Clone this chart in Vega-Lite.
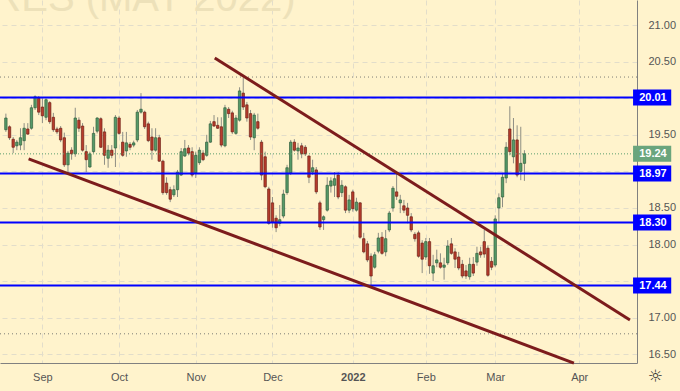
{
  "$schema": "https://vega.github.io/schema/vega-lite/v6.json",
  "width": 637,
  "height": 363,
  "autosize": {"type": "none"},
  "padding": {"left": 0, "top": 0, "right": 43, "bottom": 28},
  "background": "#fff3cc",
  "config": {"view": {"stroke": null}},
  "datasets": {
    "candles": [
      {"i":-10,"o":19.57,"h":19.79,"l":19.54,"c":19.73},
      {"i":-9,"o":19.61,"h":19.63,"l":19.43,"c":19.46},
      {"i":-8,"o":19.44,"h":19.47,"l":19.25,"c":19.33},
      {"i":-7,"o":19.35,"h":19.43,"l":19.29,"c":19.40},
      {"i":-6,"o":19.36,"h":19.59,"l":19.29,"c":19.46},
      {"i":-5,"o":19.42,"h":19.66,"l":19.29,"c":19.59},
      {"i":-4,"o":19.58,"h":19.66,"l":19.50,"c":19.51},
      {"i":-3,"o":19.59,"h":19.91,"l":19.57,"c":19.87},
      {"i":-2,"o":19.87,"h":20.04,"l":19.84,"c":20.02},
      {"i":-1,"o":20.00,"h":20.03,"l":19.77,"c":19.81},
      {"i":0,"o":19.88,"h":20.00,"l":19.66,"c":19.76},
      {"i":1,"o":19.74,"h":20.00,"l":19.70,"c":19.98},
      {"i":2,"o":19.94,"h":19.96,"l":19.65,"c":19.68},
      {"i":3,"o":19.74,"h":19.80,"l":19.54,"c":19.57},
      {"i":4,"o":19.58,"h":19.61,"l":19.51,"c":19.54},
      {"i":5,"o":19.59,"h":19.62,"l":19.40,"c":19.43},
      {"i":6,"o":19.46,"h":19.53,"l":19.06,"c":19.09},
      {"i":7,"o":19.09,"h":19.28,"l":18.95,"c":19.25},
      {"i":8,"o":19.29,"h":19.33,"l":19.16,"c":19.24},
      {"i":9,"o":19.24,"h":19.87,"l":19.20,"c":19.73},
      {"i":10,"o":19.70,"h":19.74,"l":19.54,"c":19.59},
      {"i":11,"o":19.62,"h":19.66,"l":19.27,"c":19.29},
      {"i":12,"o":19.27,"h":19.36,"l":18.99,"c":19.16},
      {"i":13,"o":19.06,"h":19.27,"l":19.05,"c":19.24},
      {"i":14,"o":19.27,"h":19.61,"l":19.25,"c":19.52},
      {"i":15,"o":19.55,"h":19.74,"l":19.52,"c":19.73},
      {"i":16,"o":19.72,"h":19.74,"l":19.32,"c":19.33},
      {"i":17,"o":19.54,"h":19.59,"l":19.09,"c":19.22},
      {"i":18,"o":19.18,"h":19.36,"l":19.05,"c":19.29},
      {"i":19,"o":19.29,"h":19.36,"l":19.18,"c":19.22},
      {"i":20,"o":19.32,"h":19.77,"l":19.06,"c":19.74},
      {"i":21,"o":19.73,"h":19.76,"l":19.50,"c":19.52},
      {"i":22,"o":19.40,"h":19.54,"l":19.20,"c":19.22},
      {"i":23,"o":19.28,"h":19.54,"l":19.20,"c":19.39},
      {"i":24,"o":19.37,"h":19.40,"l":19.29,"c":19.33},
      {"i":25,"o":19.36,"h":19.42,"l":19.33,"c":19.39},
      {"i":26,"o":19.43,"h":19.84,"l":19.40,"c":19.81},
      {"i":27,"o":19.81,"h":20.07,"l":19.79,"c":19.85},
      {"i":28,"o":19.81,"h":19.83,"l":19.58,"c":19.61},
      {"i":29,"o":19.65,"h":19.68,"l":19.40,"c":19.42},
      {"i":30,"o":19.47,"h":19.59,"l":19.16,"c":19.29},
      {"i":31,"o":19.29,"h":19.59,"l":19.27,"c":19.46},
      {"i":32,"o":19.46,"h":19.50,"l":19.13,"c":19.14},
      {"i":33,"o":19.14,"h":19.16,"l":18.68,"c":18.71},
      {"i":34,"o":18.84,"h":18.92,"l":18.68,"c":18.71},
      {"i":35,"o":18.75,"h":18.79,"l":18.58,"c":18.62},
      {"i":36,"o":18.68,"h":18.81,"l":18.65,"c":18.75},
      {"i":37,"o":18.75,"h":19.02,"l":18.65,"c":18.99},
      {"i":38,"o":18.95,"h":19.32,"l":18.94,"c":19.27},
      {"i":39,"o":19.21,"h":19.43,"l":19.20,"c":19.31},
      {"i":40,"o":19.32,"h":19.36,"l":19.22,"c":19.25},
      {"i":41,"o":19.27,"h":19.33,"l":18.92,"c":18.95},
      {"i":42,"o":18.98,"h":19.27,"l":18.91,"c":19.22},
      {"i":43,"o":19.12,"h":19.33,"l":19.09,"c":19.29},
      {"i":44,"o":19.25,"h":19.29,"l":19.14,"c":19.16},
      {"i":45,"o":19.22,"h":19.50,"l":19.20,"c":19.40},
      {"i":46,"o":19.40,"h":19.69,"l":19.39,"c":19.65},
      {"i":47,"o":19.68,"h":19.77,"l":19.61,"c":19.62},
      {"i":48,"o":19.63,"h":19.74,"l":19.58,"c":19.59},
      {"i":49,"o":19.61,"h":19.74,"l":19.33,"c":19.36},
      {"i":50,"o":19.35,"h":19.91,"l":19.33,"c":19.87},
      {"i":51,"o":19.85,"h":19.88,"l":19.73,"c":19.79},
      {"i":52,"o":19.80,"h":19.83,"l":19.51,"c":19.54},
      {"i":53,"o":19.52,"h":19.77,"l":19.50,"c":19.73},
      {"i":54,"o":19.70,"h":20.15,"l":19.68,"c":20.10},
      {"i":55,"o":20.07,"h":20.28,"l":19.84,"c":19.88},
      {"i":56,"o":19.91,"h":19.95,"l":19.68,"c":19.73},
      {"i":57,"o":19.79,"h":19.84,"l":19.43,"c":19.47},
      {"i":58,"o":19.46,"h":19.80,"l":19.29,"c":19.77},
      {"i":59,"o":19.68,"h":19.79,"l":19.57,"c":19.59},
      {"i":60,"o":19.40,"h":19.43,"l":18.88,"c":18.95},
      {"i":61,"o":19.20,"h":19.27,"l":18.77,"c":18.79},
      {"i":62,"o":18.76,"h":18.79,"l":18.27,"c":18.29},
      {"i":63,"o":18.57,"h":18.65,"l":18.23,"c":18.31},
      {"i":64,"o":18.36,"h":18.40,"l":18.17,"c":18.23},
      {"i":65,"o":18.29,"h":18.54,"l":18.25,"c":18.34},
      {"i":66,"o":18.39,"h":18.75,"l":18.36,"c":18.69},
      {"i":67,"o":18.71,"h":19.09,"l":18.68,"c":19.05},
      {"i":68,"o":18.98,"h":19.43,"l":18.95,"c":19.40},
      {"i":69,"o":19.40,"h":19.44,"l":19.27,"c":19.29},
      {"i":70,"o":19.28,"h":19.39,"l":19.16,"c":19.32},
      {"i":71,"o":19.35,"h":19.39,"l":19.18,"c":19.24},
      {"i":72,"o":19.33,"h":19.36,"l":19.21,"c":19.24},
      {"i":73,"o":19.21,"h":19.22,"l":18.84,"c":18.92},
      {"i":74,"o":18.99,"h":19.16,"l":18.95,"c":19.05},
      {"i":75,"o":19.02,"h":19.06,"l":18.69,"c":18.72},
      {"i":76,"o":18.57,"h":18.60,"l":18.20,"c":18.24},
      {"i":77,"o":18.34,"h":18.40,"l":18.20,"c":18.38},
      {"i":78,"o":18.47,"h":18.92,"l":18.45,"c":18.81},
      {"i":79,"o":18.80,"h":18.92,"l":18.71,"c":18.87},
      {"i":80,"o":18.81,"h":18.99,"l":18.65,"c":18.90},
      {"i":81,"o":18.95,"h":18.99,"l":18.62,"c":18.65},
      {"i":82,"o":18.71,"h":18.88,"l":18.65,"c":18.81},
      {"i":83,"o":18.79,"h":18.81,"l":18.43,"c":18.47},
      {"i":84,"o":18.47,"h":18.68,"l":18.43,"c":18.61},
      {"i":85,"o":18.72,"h":18.75,"l":18.45,"c":18.49},
      {"i":86,"o":18.47,"h":18.64,"l":18.45,"c":18.58},
      {"i":87,"o":18.57,"h":18.58,"l":18.08,"c":18.10},
      {"i":88,"o":18.08,"h":18.16,"l":17.88,"c":17.90},
      {"i":89,"o":18.01,"h":18.05,"l":17.76,"c":17.79},
      {"i":90,"o":17.84,"h":17.88,"l":17.42,"c":17.57},
      {"i":91,"o":17.69,"h":17.90,"l":17.67,"c":17.86},
      {"i":92,"o":17.91,"h":18.16,"l":17.88,"c":18.09},
      {"i":93,"o":18.10,"h":18.17,"l":17.86,"c":17.88},
      {"i":94,"o":17.90,"h":18.20,"l":17.84,"c":18.08},
      {"i":95,"o":18.20,"h":18.46,"l":18.17,"c":18.43},
      {"i":96,"o":18.50,"h":18.80,"l":18.45,"c":18.77},
      {"i":97,"o":18.72,"h":18.99,"l":18.61,"c":18.66},
      {"i":98,"o":18.57,"h":18.68,"l":18.43,"c":18.61},
      {"i":99,"o":18.53,"h":18.61,"l":18.43,"c":18.47},
      {"i":100,"o":18.50,"h":18.57,"l":18.29,"c":18.40},
      {"i":101,"o":18.38,"h":18.43,"l":18.17,"c":18.20},
      {"i":102,"o":18.14,"h":18.17,"l":18.04,"c":18.08},
      {"i":103,"o":18.16,"h":18.19,"l":17.82,"c":17.84},
      {"i":104,"o":18.02,"h":18.06,"l":17.61,"c":17.80},
      {"i":105,"o":17.83,"h":18.09,"l":17.79,"c":18.04},
      {"i":106,"o":18.04,"h":18.09,"l":17.60,"c":17.71},
      {"i":107,"o":17.61,"h":17.86,"l":17.50,"c":17.71},
      {"i":108,"o":17.75,"h":17.93,"l":17.69,"c":17.79},
      {"i":109,"o":17.75,"h":17.88,"l":17.67,"c":17.69},
      {"i":110,"o":17.69,"h":17.82,"l":17.52,"c":17.72},
      {"i":111,"o":17.75,"h":18.06,"l":17.72,"c":17.98},
      {"i":112,"o":18.01,"h":18.09,"l":17.86,"c":17.88},
      {"i":113,"o":17.90,"h":17.95,"l":17.68,"c":17.80},
      {"i":114,"o":17.83,"h":17.90,"l":17.65,"c":17.68},
      {"i":115,"o":17.73,"h":17.79,"l":17.54,"c":17.57},
      {"i":116,"o":17.64,"h":17.72,"l":17.53,"c":17.57},
      {"i":117,"o":17.56,"h":17.82,"l":17.52,"c":17.73},
      {"i":118,"o":17.73,"h":17.83,"l":17.57,"c":17.61},
      {"i":119,"o":17.76,"h":17.97,"l":17.71,"c":17.88},
      {"i":120,"o":17.90,"h":17.97,"l":17.82,"c":17.86},
      {"i":121,"o":18.04,"h":18.20,"l":17.82,"c":17.87},
      {"i":122,"o":17.95,"h":17.99,"l":17.56,"c":17.58},
      {"i":123,"o":17.77,"h":17.83,"l":17.65,"c":17.69},
      {"i":124,"o":17.72,"h":18.40,"l":17.69,"c":18.35},
      {"i":125,"o":18.50,"h":18.70,"l":18.31,"c":18.64},
      {"i":126,"o":18.65,"h":18.98,"l":18.51,"c":18.92},
      {"i":127,"o":18.91,"h":19.40,"l":18.84,"c":19.33},
      {"i":128,"o":19.58,"h":19.89,"l":19.22,"c":19.27},
      {"i":129,"o":19.20,"h":19.73,"l":19.11,"c":19.43},
      {"i":130,"o":19.43,"h":19.63,"l":18.92,"c":18.95},
      {"i":131,"o":19.00,"h":19.61,"l":18.88,"c":19.11},
      {"i":132,"o":19.11,"h":19.29,"l":18.87,"c":19.24}
    ],
    "levels": [
      {"v": 20.01, "t": "20.01", "col": "blue"},
      {"v": 18.97, "t": "18.97", "col": "blue"},
      {"v": 18.30, "t": "18.30", "col": "blue"},
      {"v": 17.44, "t": "17.44", "col": "blue"}
    ],
    "tags": [
      {"v": 20.01, "t": "20.01", "col": "blue"},
      {"v": 19.24, "t": "19.24", "col": "green"},
      {"v": 18.97, "t": "18.97", "col": "blue"},
      {"v": 18.30, "t": "18.30", "col": "blue"},
      {"v": 17.44, "t": "17.44", "col": "blue"}
    ],
    "dotted": [{"v": 20.29}, {"v": 16.78}],
    "trend": [
      {"id": 1, "i": 47.2, "p": 20.55},
      {"id": 1, "i": 160.9, "p": 16.97},
      {"id": 2, "i": -3.77, "p": 19.17},
      {"id": 2, "i": 145.55, "p": 16.38}
    ]
  },
  "layer": [
    {
      "data": {"name": "candles"},
      "mark": {"type": "rule", "color": "#8e8e84", "strokeWidth": 1},
      "encoding": {
        "x": {"field": "i", "type": "quantitative", "title": null, "scale": {"domain": [-10.24, 161.46], "nice": false, "zero": false},
          "axis": {"orient": "bottom", "title": null, "zindex": 0, "values": [0, 21, 42, 63, 85, 105, 124, 147],
            "labelExpr": "['Sep','Oct','Nov','Dec','2022','Feb','Mar','Apr'][indexof([0,21,42,63,85,105,124,147], datum.value)]",
            "grid": true, "gridColor": "#e2ddca", "gridDash": [5, 4], "ticks": false, "domainColor": "#808080",
            "labelColor": "#555555", "labelFont": "Liberation Sans", "labelFontSize": 11, "labelPadding": 8, "labelOverlap": false,
            "labelFontWeight": {"condition": {"test": "datum.value === 85", "value": "bold"}, "value": "normal"}}},
        "y": {"field": "l", "type": "quantitative", "title": null, "scale": {"domain": [16.381, 21.343], "nice": false, "zero": false},
          "axis": {"orient": "right", "title": null, "zindex": 0, "values": [16.5, 17, 17.5, 18, 18.5, 19, 19.5, 20, 20.5, 21],
            "labelExpr": "(datum.value == 20 || datum.value == 19 || datum.value == 17.5) ? '' : format(datum.value, '.2f')",
            "grid": true, "gridColor": "#e2ddca", "gridDash": [5, 4], "ticks": false, "domainColor": "#808080",
            "labelColor": "#555555", "labelFont": "Liberation Sans", "labelFontSize": 11, "labelPadding": 11, "labelOverlap": false}},
        "y2": {"field": "h"}
      }
    },
    {
      "data": {"values": [{"t": "FUTURES (MAY 2022)"}]},
      "mark": {"type": "text", "align": "right", "baseline": "alphabetic", "fontSize": 40, "font": "Liberation Sans", "color": "#ede1b9", "clip": true},
      "encoding": {
        "x": {"datum": 69.3, "type": "quantitative", "title": null},
        "y": {"datum": 21.19, "type": "quantitative", "title": null},
        "text": {"field": "t"}
      }
    },
    {
      "data": {"name": "candles"},
      "mark": {"type": "bar", "width": 2.4, "strokeWidth": 0.7},
      "encoding": {
        "x": {"field": "i", "type": "quantitative", "title": null},
        "y": {"field": "o", "type": "quantitative", "title": null},
        "y2": {"field": "c"},
        "fill": {"condition": {"test": "datum.c >= datum.o", "value": "#559a68"}, "value": "#b83c2c"},
        "stroke": {"condition": {"test": "datum.c >= datum.o", "value": "#2f5e3c"}, "value": "#6e2016"}
      }
    },
    {
      "data": {"name": "dotted"},
      "mark": {"type": "rule", "color": "#7d7d75", "strokeWidth": 1, "strokeDash": [1, 3]},
      "encoding": {
        "y": {"field": "v", "type": "quantitative", "title": null}
      }
    },
    {
      "data": {"values": [{"v": 19.24}]},
      "mark": {"type": "rule", "color": "#5a9e6e", "strokeWidth": 1, "strokeDash": [1, 2]},
      "encoding": {
        "y": {"field": "v", "type": "quantitative", "title": null}
      }
    },
    {
      "data": {"name": "levels"},
      "mark": {"type": "rule", "color": "#0000ff", "strokeWidth": 2},
      "encoding": {
        "y": {"field": "v", "type": "quantitative", "title": null}
      }
    },
    {
      "data": {"name": "trend"},
      "mark": {"type": "line", "color": "#7c1c1c", "strokeWidth": 3},
      "encoding": {
        "x": {"field": "i", "type": "quantitative", "title": null},
        "y": {"field": "p", "type": "quantitative", "title": null},
        "detail": {"field": "id"}
      }
    },
    {
      "data": {"name": "tags"},
      "mark": {"type": "rule", "strokeWidth": 16, "strokeCap": "butt"},
      "encoding": {
        "x": {"datum": 161.75, "type": "quantitative", "title": null},
        "x2": {"datum": 172.2},
        "y": {"field": "v", "type": "quantitative", "title": null},
        "color": {"condition": {"test": "datum.col == 'green'", "value": "#6aa57d"}, "value": "#0000ff"}
      }
    },
    {
      "data": {"name": "tags"},
      "mark": {"type": "text", "color": "#ffffff", "fontSize": 11, "fontWeight": "bold", "font": "Liberation Sans", "align": "center", "baseline": "middle"},
      "encoding": {
        "x": {"datum": 167.2, "type": "quantitative", "title": null},
        "y": {"field": "v", "type": "quantitative", "title": null},
        "text": {"field": "t"}
      }
    },
    {
      "data": {"values": [{"t": "☼"}]},
      "mark": {"type": "text", "color": "#333333", "fontSize": 17, "font": "DejaVu Sans", "align": "center", "baseline": "middle"},
      "encoding": {
        "x": {"datum": 167.9, "type": "quantitative", "title": null},
        "y": {"datum": 16.19, "type": "quantitative", "title": null},
        "text": {"field": "t"}
      }
    }
  ]
}
